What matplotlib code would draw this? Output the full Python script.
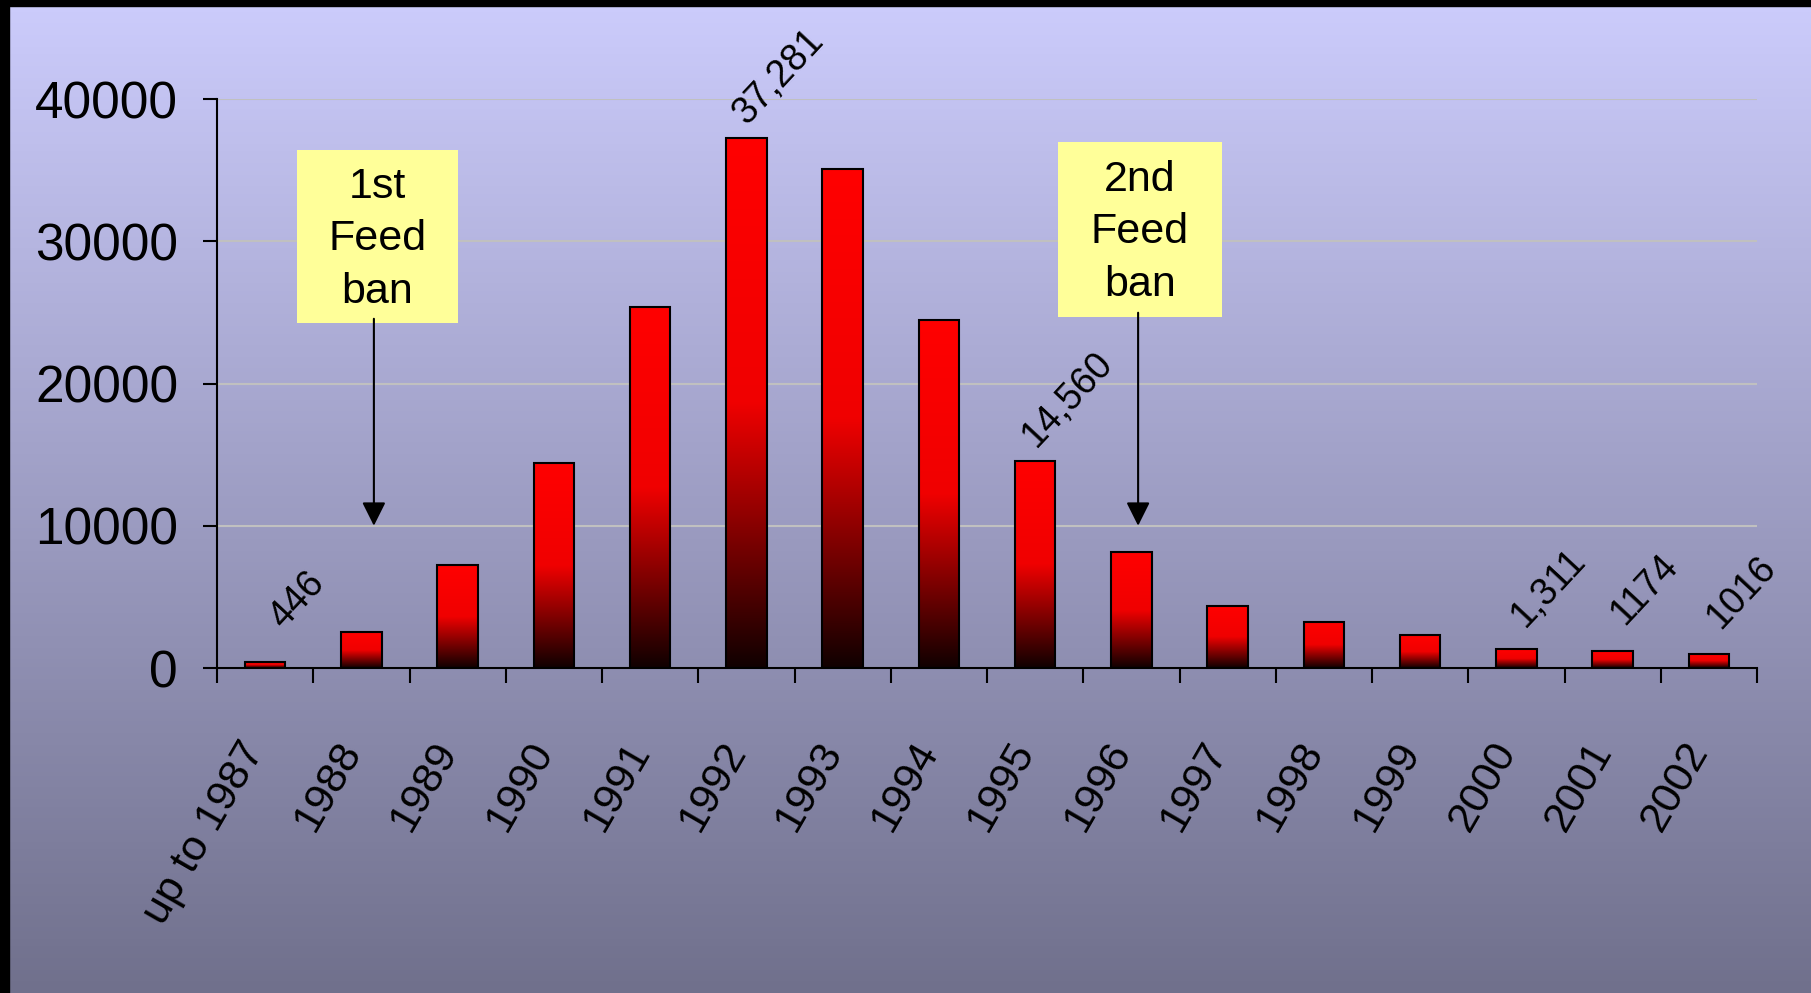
import numpy as np
import matplotlib.pyplot as plt
from matplotlib.patches import Rectangle
from matplotlib.colors import LinearSegmentedColormap

plt.rcParams['font.family'] = ['Liberation Sans', 'DejaVu Sans']

# BSE cases per year
categories = ['up to 1987', '1988', '1989', '1990', '1991', '1992', '1993', '1994',
              '1995', '1996', '1997', '1998', '1999', '2000', '2001', '2002']
cases = [446, 2514, 7228, 14407, 25359, 37281, 35090, 24438,
         14560, 8149, 4393, 3235, 2301, 1311, 1174, 1016]

# bars that carry a value label
label_years = ['up to 1987', '1992', '1995', '2000', '2001', '2002']
label_texts = ['446', '37,281', '14,560', '1,311', '1174', '1016']

# feed ban call-outs
ban_texts = ['1st\nFeed\nban', '2nd\nFeed\nban']
ban_years = ['1988', '1996']

W, H = 1811, 993
fig = plt.figure(figsize=(W / 100, H / 100), dpi=100)

# background gradient + black frame edge
bg = fig.add_axes([0, 0, 1, 1], zorder=-10)
bg_cmap = LinearSegmentedColormap.from_list('bg', ['#ccccfc', '#70708c'])
bg.imshow(np.linspace(0, 1, 256).reshape(-1, 1), aspect='auto', cmap=bg_cmap,
          extent=[0, 1, 0, 1], origin='upper')
bg.add_patch(Rectangle((0, 0), 9 / W, 1, color='black'))
bg.add_patch(Rectangle((0, 1 - 6 / H), 1, 6 / H, color='black'))
bg.set_xlim(0, 1)
bg.set_ylim(0, 1)
bg.axis('off')

ax = fig.add_axes([217 / W, 1 - 668 / H, (1757 - 217) / W, (668 - 99) / H])
ax.set_facecolor('none')

# bars: red-to-black gradient inside black outline
x = np.arange(len(categories))
bar_w = 0.42
red_cmap = LinearSegmentedColormap.from_list('red', ['#ff0000', '#f00000', '#100000'])
grad = np.linspace(0, 1, 256).reshape(-1, 1)
for xi, v in zip(x, cases):
    ax.imshow(grad, cmap=red_cmap, aspect='auto', origin='upper',
              extent=[xi - bar_w / 2, xi + bar_w / 2, 0, v], zorder=2)
ax.bar(x, cases, width=bar_w, facecolor='none', edgecolor='black', linewidth=1.5, zorder=3)

ax.set_xlim(-0.5, len(categories) - 0.5)
ax.set_ylim(0, 40000)
ax.set_aspect('auto')

ax.yaxis.grid(True, color='#c0c0c0', linewidth=1.5)
ax.set_axisbelow(True)
for s in ['top', 'right']:
    ax.spines[s].set_visible(False)
for s in ['left', 'bottom']:
    ax.spines[s].set_linewidth(1.5)

ax.set_yticks([0, 10000, 20000, 30000, 40000])
ax.tick_params(axis='y', labelsize=37, length=10, width=1.5, pad=18)
ax.set_xticks(np.arange(-0.5, len(categories), 1))
ax.set_xticklabels([])
ax.tick_params(axis='x', which='major', length=11, width=1.5)
# labels sit a touch right of the bar centre, as in the original
ax.set_xticks(x + 0.08, minor=True)
ax.set_xticklabels(categories, minor=True, rotation=60, ha='right', fontsize=31)
ax.tick_params(axis='x', which='minor', length=0, pad=48)

# value labels
for year, txt in zip(label_years, label_texts):
    i = categories.index(year)
    ax.annotate(txt, xy=(i, cases[i]), xytext=(23, 44), textcoords='offset points',
                rotation=47, rotation_mode='anchor', ha='center', va='center',
                fontsize=27, annotation_clip=False)

# feed ban boxes with arrows
box_dx = [(-0.67, 1.0), (-0.76, 0.94)]
box_y = [(24250, 36410), (24675, 36980)]
arrow_dx = [0.13, 0.07]
for txt, year, (bx0, bx1), (by0, by1), adx in zip(ban_texts, ban_years, box_dx, box_y, arrow_dx):
    i = categories.index(year)
    ax.add_patch(Rectangle((i + bx0, by0), bx1 - bx0, by1 - by0, facecolor='#ffff99',
                           edgecolor='none', zorder=4, clip_on=False))
    ax.text(i + (bx0 + bx1) / 2, (by0 + by1) / 2 - 200, txt, ha='center', va='center',
            fontsize=31, linespacing=1.4, zorder=5)
    ax.annotate('', xy=(i + adx, 10000), xytext=(i + adx, by0 + 300),
                arrowprops=dict(arrowstyle='-|>,head_length=0.4,head_width=0.2',
                                mutation_scale=36, lw=1.5, color='black',
                                shrinkA=0, shrinkB=0), zorder=5)

fig.savefig('out.png', dpi=100)
